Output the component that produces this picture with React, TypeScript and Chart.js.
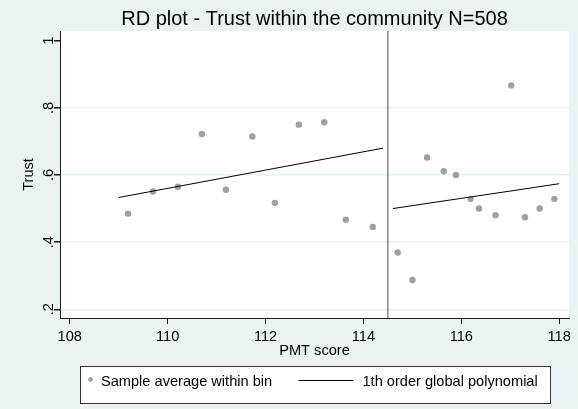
import React, { useEffect, useRef } from 'react';
import { Chart, registerables } from 'chart.js';

Chart.register(...registerables);

const chartTitle = 'RD plot - Trust within the community N=508';
const xAxisTitle = 'PMT score';
const yAxisTitle = 'Trust';
const binLabel = 'Sample average within bin';
const fitLabel = '1th order global polynomial';

// Bin averages (x = PMT score bin centre, y = Trust)
const binX = [109.19, 109.70, 110.21, 110.70, 111.19, 111.73, 112.19, 112.68, 113.20, 113.64, 114.19,
  114.70, 115.00, 115.30, 115.64, 115.89, 116.19, 116.36, 116.70, 117.02, 117.30, 117.60, 117.90];
const binY = [0.485, 0.551, 0.565, 0.722, 0.556, 0.715, 0.517, 0.750, 0.757, 0.467, 0.445,
  0.369, 0.287, 0.652, 0.611, 0.600, 0.529, 0.500, 0.480, 0.867, 0.474, 0.500, 0.529];

// Fitted polynomial, left and right of cutoff
const leftFitX = [109.0, 114.4];
const leftFitY = [0.533, 0.680];
const rightFitX = [114.6, 118.0];
const rightFitY = [0.500, 0.574];

const cutoff = 114.5;

const xRange = [107.8, 118.2];
const yRange = [0.174, 1.029];
const xTicks = [108, 110, 112, 114, 116, 118];
const yTicks = [0.2, 0.4, 0.6, 0.8, 1];
const yTickLabels = ['.2', '.4', '.6', '.8', '1'];

const FONT = "'Liberation Sans', Arial, sans-serif";
const BG = 'rgb(234,242,243)';
const GRID = 'rgb(232,240,242)';
const MARKER = '#a0a0a0';
const AXIS = '#1a1a1a';

const stataPlugin = {
  id: 'stataLook',
  beforeDraw(chart: any) {
    const { ctx, chartArea: a } = chart;
    ctx.save();
    ctx.fillStyle = BG;
    ctx.fillRect(0, 0, chart.width, chart.height);
    ctx.fillStyle = '#ffffff';
    ctx.fillRect(a.left, a.top, a.right - a.left, a.bottom - a.top);
    ctx.restore();
  },
  afterDraw(chart: any) {
    const { ctx, chartArea: a } = chart;
    const cx = (a.left + a.right) / 2;
    ctx.save();
    // title
    ctx.fillStyle = '#000';
    ctx.font = `20px ${FONT}`;
    ctx.textAlign = 'center';
    ctx.textBaseline = 'alphabetic';
    ctx.fillText(chartTitle, cx, 25);

    // legend box
    const bw = 470;
    const bx = Math.round(cx - bw / 2) + 0.5;
    const by = 366.5;
    const bh = 37;
    ctx.fillStyle = '#ffffff';
    ctx.fillRect(bx, by, bw, bh);
    ctx.strokeStyle = '#333';
    ctx.lineWidth = 1;
    ctx.strokeRect(bx, by, bw, bh);

    const ds0 = chart.data.datasets[0];
    const ds1 = chart.data.datasets[1];
    // marker item
    ctx.fillStyle = ds0.backgroundColor;
    ctx.beginPath();
    ctx.arc(bx + 10, 379.5, 2.4, 0, Math.PI * 2);
    ctx.fill();
    ctx.fillStyle = '#000';
    ctx.font = `14.6px ${FONT}`;
    ctx.textAlign = 'left';
    ctx.fillText(ds0.label, bx + 20.5, 386);
    // line item
    ctx.strokeStyle = ds1.borderColor;
    ctx.beginPath();
    ctx.moveTo(bx + 218, 380.5);
    ctx.lineTo(bx + 273, 380.5);
    ctx.stroke();
    ctx.fillText(ds1.label, bx + 282, 386);
    ctx.restore();
  },
};

export default function App() {
  const ref = useRef<HTMLCanvasElement | null>(null);

  useEffect(() => {
    if (!ref.current) return;
    const tickFont = { family: FONT, size: 14.6 };
    const chart = new Chart(ref.current, {
      type: 'scatter',
      data: {
        datasets: [
          {
            label: binLabel,
            data: binX.map((x, i) => ({ x, y: binY[i] })),
            backgroundColor: MARKER,
            borderWidth: 0,
            pointRadius: 3.2,
            showLine: false,
            order: 1,
          },
          {
            label: fitLabel,
            data: leftFitX.map((x, i) => ({ x, y: leftFitY[i] })),
            borderColor: '#000',
            borderWidth: 1,
            pointRadius: 0,
            showLine: true,
            order: 0,
          },
          {
            label: fitLabel + ' (right)',
            data: rightFitX.map((x, i) => ({ x, y: rightFitY[i] })),
            borderColor: '#000',
            borderWidth: 1,
            pointRadius: 0,
            showLine: true,
            order: 0,
          },
          {
            label: 'cutoff',
            data: [{ x: cutoff, y: yRange[0] }, { x: cutoff, y: yRange[1] }],
            borderColor: '#4a4a4a',
            borderWidth: 1,
            pointRadius: 0,
            showLine: true,
            order: 2,
          },
        ],
      },
      options: {
        responsive: false,
        animation: false,
        devicePixelRatio: 1,
        layout: { padding: { left: 0, top: 31, right: 9, bottom: 0 } },
        plugins: {
          legend: { display: false },
          tooltip: { enabled: false },
          title: { display: false },
        },
        scales: {
          x: {
            type: 'linear',
            min: xRange[0],
            max: xRange[1],
            afterBuildTicks: (s: any) => {
              s.ticks = xTicks.map((v) => ({ value: v }));
            },
            afterFit: (s: any) => {
              s.height = 91;
            },
            ticks: {
              font: tickFont,
              color: '#000',
              padding: 4.5,
              maxRotation: 0,
              autoSkip: false,
              callback: (v: any) => String(v),
            },
            grid: {
              drawOnChartArea: false,
              drawTicks: true,
              tickLength: 6,
              color: AXIS,
              tickColor: AXIS,
            },
            border: { display: true, color: AXIS, width: 1 },
            title: {
              display: true,
              text: xAxisTitle,
              font: tickFont,
              color: '#000',
              padding: { top: 0, bottom: 49.7 },
            },
          },
          y: {
            type: 'linear',
            min: yRange[0],
            max: yRange[1],
            afterBuildTicks: (s: any) => {
              s.ticks = yTicks.map((v) => ({ value: v }));
            },
            afterFit: (s: any) => {
              s.width = 60;
            },
            ticks: {
              font: tickFont,
              color: '#000',
              padding: -1,
              minRotation: 90,
              maxRotation: 90,
              crossAlign: 'center',
              autoSkip: false,
              callback: (v: any) => {
                const i = yTicks.findIndex((t) => Math.abs(t - v) < 1e-9);
                return i >= 0 ? yTickLabels[i] : '';
              },
            },
            grid: {
              drawTicks: true,
              tickLength: 6,
              color: (ctx: any) => (ctx.tick && Math.abs(ctx.tick.value - 1) < 1e-9 ? 'rgba(0,0,0,0)' : GRID),
              tickColor: AXIS,
              lineWidth: 1.5,
            },
            border: { display: true, color: AXIS, width: 1 },
            title: {
              display: true,
              text: yAxisTitle,
              font: tickFont,
              color: '#000',
              padding: { top: 20, bottom: 0 },
            },
          },
        },
      },
      plugins: [stataPlugin],
    } as any);
    return () => chart.destroy();
  }, []);

  return (
    <div
      style={{
        position: 'fixed',
        left: 0,
        top: 0,
        width: 578,
        height: 409,
        background: BG,
      }}
    >
      <canvas ref={ref} width={578} height={409} style={{ width: 578, height: 409, display: 'block' }} />
    </div>
  );
}
